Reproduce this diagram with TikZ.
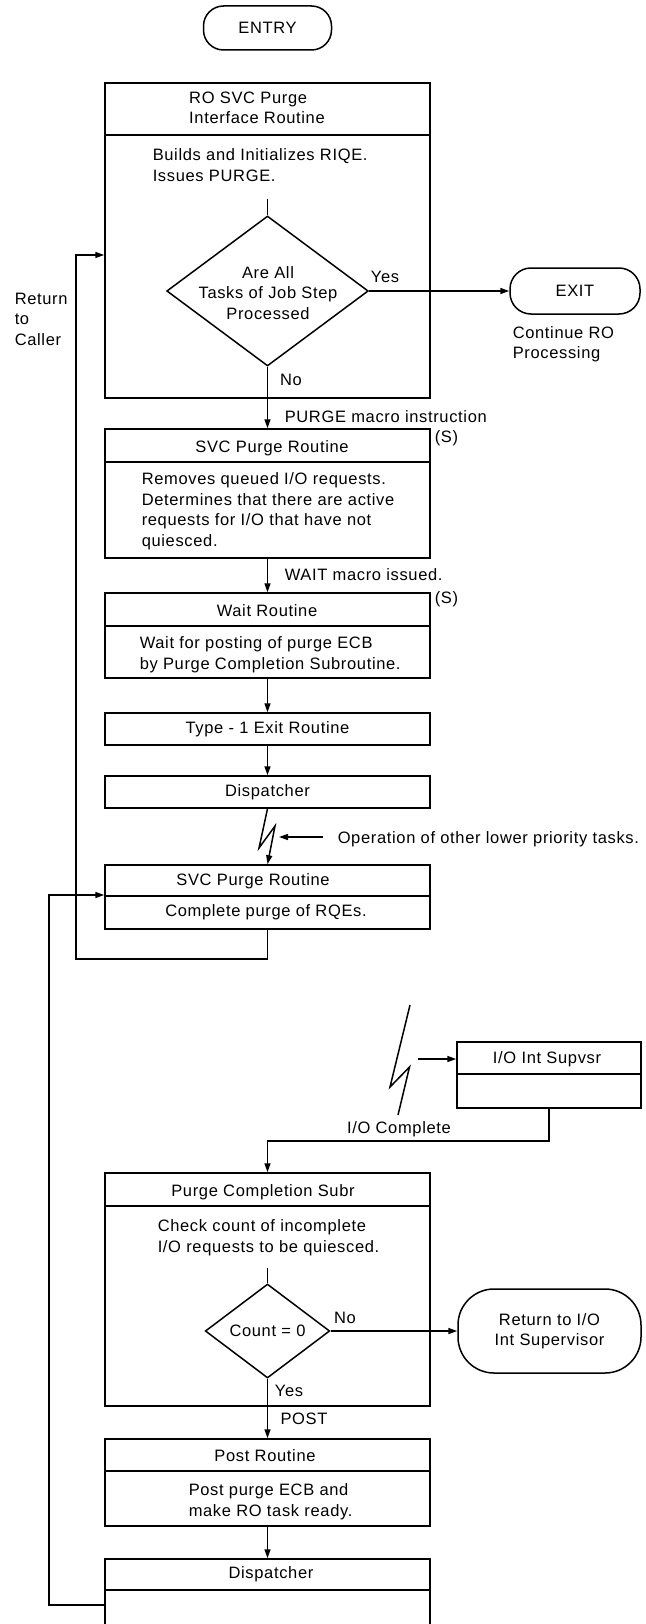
\documentclass[tikz,border=0pt]{standalone}
\usepackage{fontspec}
\setmainfont{Liberation Sans}[LetterSpace=4]
\usetikzlibrary{shapes.geometric,arrows.meta}
\begin{document}
\begin{tikzpicture}[x=1pt,y=-1pt,line width=1.5pt,font=\fontsize{16.5}{20.5}\selectfont]
\tikzset{
  box/.style={draw, rectangle, minimum width=325pt, inner sep=0pt, align=center},
  term/.style={draw, rectangle, inner sep=0pt, align=center},
  dia/.style={draw, diamond, inner sep=0pt},
  lbl/.style={inner sep=0pt, align=center},
  lbll/.style={inner sep=0pt, align=left, anchor=west},
  arr/.style={-{Triangle[length=9pt,width=6pt]}},
}
\useasboundingbox (0,0) rectangle (645,1624);
\clip (0,0) rectangle (645,1624);
% ENTRY
\node[term, minimum width=128pt, minimum height=44pt, rounded corners=20pt] (entry) at (267.5,28) {ENTRY};
% Box 1
\node[box, minimum height=315pt] (b1) at (267.5,240.5) {};
\draw (b1.west |- 0,135) -- (b1.east |- 0,135);
\node[lbl, align=left] (b1t) at (257,108) {RO SVC Purge\\Interface Routine};
\node[lbll] (b1b) at (152,165) {Builds and Initializes RIQE.\\Issues PURGE.};
\coordinate (s1) at (267.5,199);
\node[dia, minimum width=201.6pt, minimum height=150pt] (d1) at (267.5,291) {};
\node[lbl] (d1t) at (268,293) {Are All\\Tasks of Job Step\\Processed};
\draw (s1) -- (d1.north);
\node[term, minimum width=130pt, minimum height=46pt, rounded corners=21pt] (exit) at (575,291) {EXIT};
\draw[arr] (d1.east) -- (exit.west);
\node[lbl] (yes1) at (385,277) {Yes};
\node[lbll] (cont) at (512,344) {Continue RO\\Processing};
\node[lbll] (ret) at (14,319) {Return\\to\\Caller};
\node[lbl] (no1) at (291,380) {No};
\node[lbll] (purgem) at (284,417) {PURGE macro instruction};
% Box 2
\node[box, minimum height=129pt] (b2) at (267.5,493.5) {};
\draw (b2.west |- 0,462) -- (b2.east |- 0,462);
\draw[arr] (d1.south) -- (b2.north);
\node[lbl] (s2a) at (446.5,438) {(S)};
\node[lbl] (b2t) at (272,448) {SVC Purge Routine};
\node[lbll] (b2b) at (141,511) {Removes queued I/O requests.\\Determines that there are active\\requests for I/O that have not\\quiesced.};
\node[lbll] (waitm) at (284,575) {WAIT macro issued.};
% Box 3
\node[box, minimum height=85pt] (b3) at (267.5,635.5) {};
\draw (b3.west |- 0,626) -- (b3.east |- 0,626);
\draw[arr] (b2.south) -- (b3.north);
\node[lbl] (s3a) at (446.5,599) {(S)};
\node[lbl] (b3t) at (267,611) {Wait Routine};
\node[lbll] (b3b) at (139,654.5) {Wait for posting of purge ECB\\by Purge Completion Subroutine.};
% Box 4, 5
\node[box, minimum height=32pt] (b4) at (267.5,729) {Type - 1 Exit Routine};
\draw[arr] (b3.south) -- (b4.north);
\node[box, minimum height=32pt] (b5) at (267.5,792) {Dispatcher};
\draw[arr] (b4.south) -- (b5.north);
% Box 6
\node[box, minimum height=64pt] (b6) at (267.5,897) {};
\draw (b6.west |- 0,896) -- (b6.east |- 0,896);
\node[lbl] (b6t) at (253,881) {SVC Purge Routine};
\node[lbl] (b6b) at (266,912) {Complete purge of RQEs.};
\coordinate (z1) at (259,848);
\coordinate (z2) at (275,826);
\draw[arr] (b5.south) -- (z1) -- (z2) -- (b6.north);
\coordinate (opA) at (323,837);
\coordinate (opB) at (279,837);
\draw[arr] (opA) -- (opB);
\node[lbll] (opt) at (337,839) {Operation of other lower priority tasks.};
\coordinate (l1) at (267.5,959);
\coordinate (l2) at (76,959);
\coordinate (l3) at (76,255);
\draw[arr] (b6.south) -- (l1) -- (l2) -- (l3) -- (b1.west |- l3);
% Box 7
\node[box, minimum width=184pt, minimum height=66pt] (b7) at (549,1075) {};
\draw (b7.west |- 0,1074) -- (b7.east |- 0,1074);
\node[lbl] (b7t) at (547,1059) {I/O Int Supvsr};
\coordinate (w0) at (410,1005);
\coordinate (w1) at (390,1087);
\coordinate (w2) at (409.5,1067);
\coordinate (w3) at (398,1115);
\draw (w0) -- (w1) -- (w2) -- (w3);
\coordinate (io1) at (418,1059);
\draw[arr] (io1) -- (b7.west |- io1);
\node[lbl] (ioc) at (399,1129) {I/O Complete};
% Box 8
\node[box, minimum height=233pt] (b8) at (267.5,1289.5) {};
\draw (b8.west |- 0,1206) -- (b8.east |- 0,1206);
\coordinate (c1) at (267.5,1141);
\draw[arr] (b7.south) -- (b7.south |- c1) -- (c1) -- (b8.north);
\node[lbl] (b8t) at (263,1192) {Purge Completion Subr};
\node[lbll] (b8b) at (157,1237.5) {Check count of incomplete\\I/O requests to be quiesced.};
\coordinate (s2) at (267.5,1268);
\node[dia, minimum width=124.5pt, minimum height=94pt] (d2) at (267.5,1331) {};
\draw (s2) -- (d2.north);
\node[lbl] (d2t) at (267.5,1331) {Count = 0};
\node[term, minimum width=183pt, minimum height=84pt, rounded corners=36pt] (t2) at (549.5,1331) {Return to I/O\\Int Supervisor};
\draw[arr] (d2.east) -- (t2.west);
\node[lbl] (no2) at (345,1318) {No};
\node[lbl] (yes2) at (289,1391) {Yes};
\node[lbl] (post) at (304,1419) {POST};
% Box 9
\node[box, minimum height=87pt] (b9) at (267.5,1482.5) {};
\draw (b9.west |- 0,1471) -- (b9.east |- 0,1471);
\draw[arr] (d2.south) -- (b9.north);
\node[lbl] (b9t) at (265,1456) {Post Routine};
\node[lbll] (b9b) at (188,1501.5) {Post purge ECB and\\make RO task ready.};
% Box 10
\node[box, minimum height=81pt] (b10) at (267.5,1599.5) {};
\draw (b10.west |- 0,1590) -- (b10.east |- 0,1590);
\draw[arr] (b9.south) -- (b10.north);
\node[lbl] (b10t) at (271,1574) {Dispatcher};
\coordinate (r1) at (49,1605);
\coordinate (r2) at (49,895);
\draw[arr] (b10.west |- r1) -- (r1) -- (r2) -- (b6.west |- r2);
\end{tikzpicture}
\end{document}
